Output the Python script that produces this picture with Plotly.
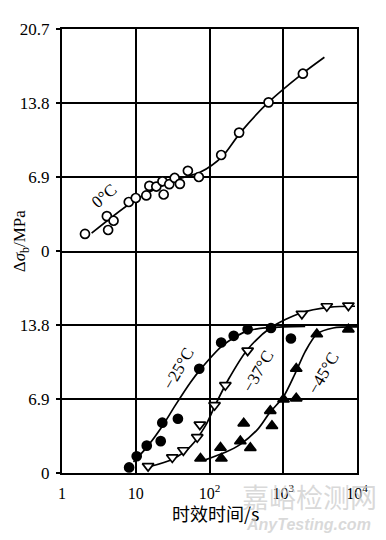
import plotly.graph_objects as go

# ---- data ----
t0_pts = [2.05, 4.06, 4.22, 5.0, 8.04, 10.0, 13.9, 15.3, 19.0, 23.0, 23.9, 28.5, 33.7, 39.7, 50.9, 71.7, 144, 252, 632, 1846]
y0_pts = [1.59, 3.25, 1.96, 2.82, 4.57, 4.94, 5.18, 6.07, 6.01, 6.50, 5.27, 6.23, 6.81, 6.26, 7.48, 6.90, 8.95, 11.04, 13.86, 16.53]
t0_fit = [2.52, 10, 34.7, 75.5, 150, 262, 627, 1806, 3614]
y0_fit = [1.66, 4.78, 6.62, 7.36, 8.83, 11.04, 13.85, 16.52, 18.06]

t25_pts = [8.13, 10.3, 14.1, 21.8, 22.9, 37.3, 72.6, 144, 213, 329, 682, 1271]
y25_pts = [0.52, 1.56, 2.55, 2.97, 4.69, 5.06, 9.72, 12.17, 12.79, 13.40, 13.52, 12.54]
t25_fit = [9.31, 14.1, 21.8, 34.7, 55.4, 75.5, 150, 326, 667, 1983]
y25_fit = [1.04, 2.39, 4.14, 6.35, 8.46, 9.66, 11.87, 13.25, 13.57, 13.68]

t37_pts = [14.7, 31.3, 44.2, 68.2, 74, 117, 164, 329, 1790, 3896, 7640]
y37_pts = [0.64, 1.45, 2.12, 3.34, 4.51, 6.32, 8.19, 11.41, 14.84, 15.55, 15.61]
t37_fit = [15.1, 31.6, 55.4, 88.3, 120, 181, 326, 667, 1698, 4315, 9400]
y37_fit = [0.58, 1.29, 2.48, 4.42, 6.35, 8.74, 11.5, 13.52, 14.9, 15.46, 15.55]

t45_pts = [75.5, 141, 145, 262, 291, 358, 667, 703, 1009, 1500, 1500, 2852, 7640]
y45_pts = [1.35, 2.36, 1.35, 2.97, 4.63, 2.33, 5.80, 4.39, 6.87, 6.96, 9.72, 12.94, 13.40]
t45_fit = [85.6, 164, 262, 459, 667, 1000, 1453, 1983, 2880, 4740, 10000]
y45_fit = [1.2, 1.93, 2.67, 4.14, 5.70, 7.08, 9.29, 11.32, 12.97, 13.52, 13.62]

x_tickvals = [1, 10, 100, 1000, 10000]
x_ticktext = ["1", "10", "10<sup>2</sup>", "10<sup>3</sup>", "10<sup>4</sup>"]
y_tickvals = [0, 6.9, 13.8, 20.7]
y_top_text = ["0", "6.9", "13.8", "20.7"]
y_bot_text = ["0", "6.9", "13.8", ""]

SERIF = "Liberation Serif, Times New Roman, serif"
fig = go.Figure()

def line(t, y, ax):
    fig.add_trace(go.Scatter(x=t, y=y, mode="lines", line=dict(color="black", width=1.7, shape="spline", smoothing=0.8),
                             xaxis=ax[0], yaxis=ax[1], showlegend=False, hoverinfo="skip"))

def pts(t, y, ax, symbol, fill, size):
    fig.add_trace(go.Scatter(x=t, y=y, mode="markers",
                             marker=dict(symbol=symbol, size=size, color=fill, line=dict(color="black", width=1.7)),
                             xaxis=ax[0], yaxis=ax[1], showlegend=False))

TOP = ("x2", "y2")
BOT = ("x", "y")
line(t0_fit, y0_fit, TOP)
pts(t0_pts, y0_pts, TOP, "circle", "white", 9)

line(t25_fit, y25_fit, BOT)
line(t37_fit, y37_fit, BOT)
line(t45_fit, y45_fit, BOT)
pts(t25_pts, y25_pts, BOT, "circle", "black", 9)
pts(t37_pts, y37_pts, BOT, "triangle-down", "white", 10)
pts(t45_pts, y45_pts, BOT, "triangle-up", "black", 10)

# The page body has an 8px margin; figure is sized so the plot lands where the reference has it.
W, H = 378, 532
ML, MR, MT, MB = 53, 29, 15, 67
grid = dict(showgrid=True, gridcolor="black", gridwidth=1.5, zeroline=False)
fig.update_layout(
    width=W, height=H,
    margin=dict(l=ML, r=MR, t=MT, b=MB),
    paper_bgcolor="white", plot_bgcolor="white",
    xaxis=dict(type="log", range=[0, 4], tickvals=x_tickvals, ticktext=x_ticktext, anchor="y",
               showline=True, mirror=False, linecolor="black", linewidth=2, ticks="",
               tickfont=dict(family=SERIF, size=16, color="black"), ticklabelstandoff=5, **grid),
    xaxis2=dict(type="log", range=[0, 4], tickvals=x_tickvals, showticklabels=False, anchor="y2",
                showline=True, mirror=True, linecolor="black", linewidth=2, ticks="",
                matches="x", **grid),
    yaxis=dict(domain=[0, 0.5], range=[0, 20.7], tickvals=y_tickvals, ticktext=y_bot_text, anchor="x",
               showline=True, mirror=True, linecolor="black", linewidth=2,
               ticks="outside", ticklen=4, tickwidth=1.5, tickcolor="black",
               tickfont=dict(family=SERIF, size=17, color="black"), ticklabelstandoff=3, **grid),
    yaxis2=dict(domain=[0.5, 1], range=[0, 20.7], tickvals=y_tickvals, ticktext=y_top_text, anchor="x2",
                showline=True, mirror=True, linecolor="black", linewidth=2,
                ticks="outside", ticklen=4, tickwidth=1.5, tickcolor="black",
                tickfont=dict(family=SERIF, size=17, color="black"), ticklabelstandoff=3, **grid),
)

ann = []
ann.append(dict(text="0°C", x=0.58, y=5.15, xref="x2", yref="y2", textangle=-40, showarrow=False,
                font=dict(family=SERIF, size=17, color="black")))
for txt, lx, ly in [("−25°C", 1.58, 9.75), ("−37°C", 2.66, 9.45), ("−45°C", 3.54, 9.3)]:
    ann.append(dict(text=txt, x=lx, y=ly, xref="x", yref="y", textangle=-60, showarrow=False,
                    font=dict(family=SERIF, size=17, color="black")))

# screen-pixel positioned texts (reference coordinates)
def px(X, Y):
    fx, fy = X - 8, Y - 8
    return (fx - ML) / (W - ML - MR), (H - MB - fy) / (H - MT - MB)

for text, X, Y, ang, font in [
    ("Δ<i>σ</i><sub>b</sub>/MPa", 20, 238, -90, dict(family=SERIF, size=17, color="black")),
    ("时效时间/s", 215, 514, 0, dict(family="Noto Sans CJK SC", size=18, color="black")),
    ("嘉峪检测网", 309, 497, 0, dict(family="Noto Sans CJK SC", size=27, color="rgba(205,205,205,0.75)")),
    ("<b><i>AnyTesting.com</i></b>", 308, 525, 0, dict(family="Liberation Sans", size=16, color="rgba(205,205,205,0.75)")),
]:
    x, y = px(X, Y)
    ann.append(dict(text=text, x=x, y=y, xref="paper", yref="paper", xanchor="center", yanchor="middle",
                    textangle=ang, showarrow=False, font=font))
fig.update_layout(annotations=ann)

fig.write_html("out.html")
